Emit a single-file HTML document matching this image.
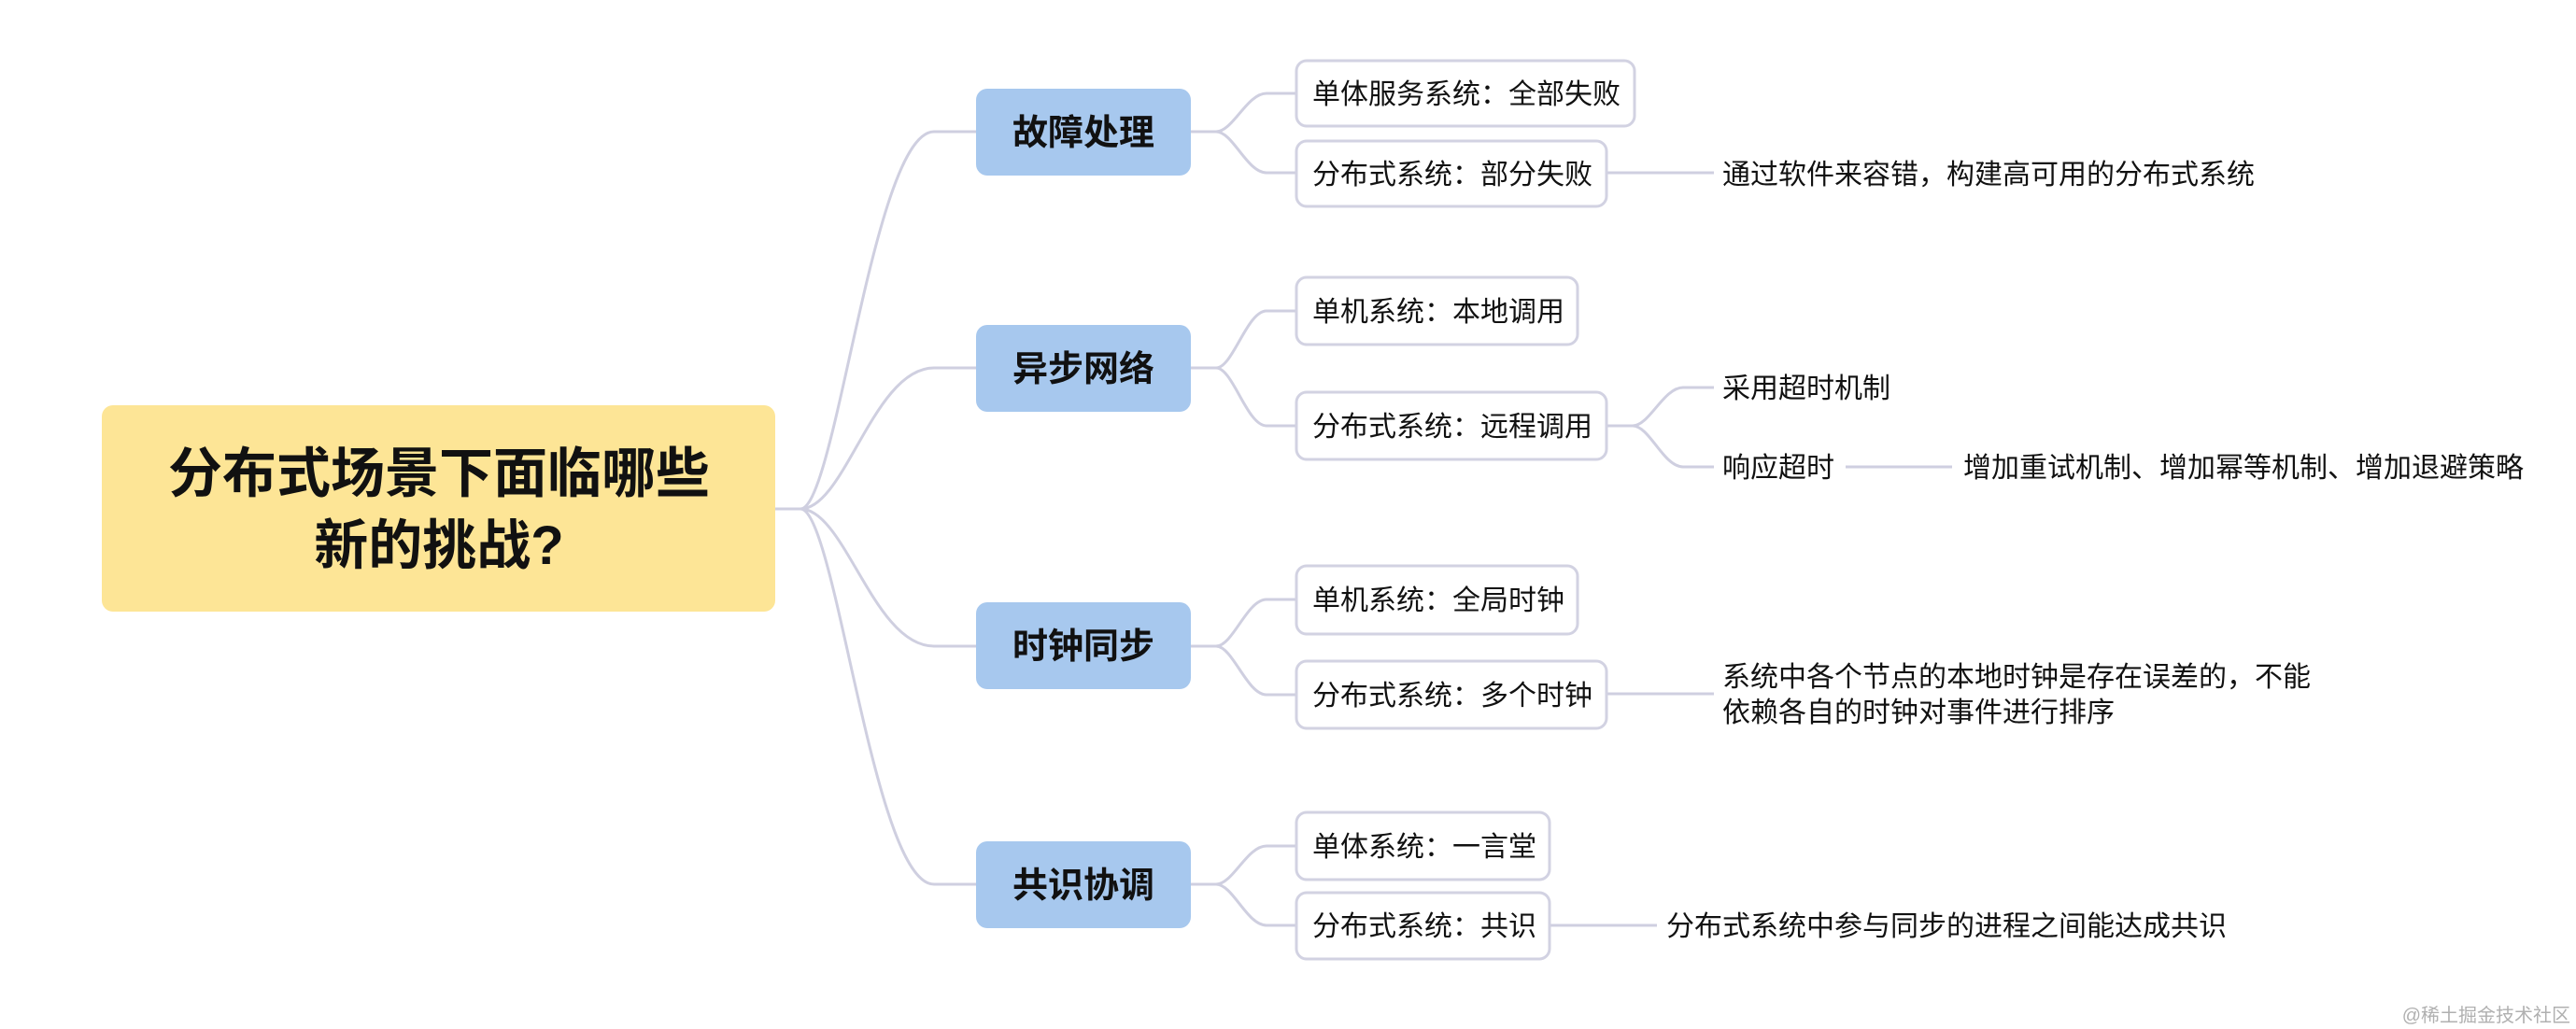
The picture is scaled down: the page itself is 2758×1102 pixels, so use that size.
<!DOCTYPE html>
<html><head><meta charset="utf-8"><style>
html,body{margin:0;padding:0;background:#fff;}
svg{display:block;}
text{font-family:"Liberation Sans","Noto Sans CJK SC",sans-serif;fill:#111;}
</style></head><body>
<svg width="2758" height="1102" viewBox="0 0 2758 1102" xmlns="http://www.w3.org/2000/svg">
<g fill="none" stroke="#cfcfe0" stroke-width="3">
<path d="M830 545 H857 C895 545, 935 141, 1000 141 H1045"/>
<path d="M857 545 C905 545, 935 394, 1000 394 H1045"/>
<path d="M857 545 C905 545, 935 692, 1000 692 H1045"/>
<path d="M857 545 C895 545, 935 947, 1000 947 H1045"/>
<path d="M1275 141 H1302 C1320 141, 1335 100, 1356 100 H1388"/>
<path d="M1302 141 C1320 141, 1335 185, 1356 185 H1388"/>
<path d="M1275 394 H1302 C1320 394, 1335 333, 1356 333 H1388"/>
<path d="M1302 394 C1320 394, 1335 456, 1356 456 H1388"/>
<path d="M1275 692 H1302 C1320 692, 1335 642, 1356 642 H1388"/>
<path d="M1302 692 C1320 692, 1335 744, 1356 744 H1388"/>
<path d="M1275 947 H1302 C1320 947, 1335 906, 1356 906 H1388"/>
<path d="M1302 947 C1320 947, 1335 991, 1356 991 H1388"/>
<path d="M1720 185 H1835"/>
<path d="M1720 456 H1748 C1766 456, 1781 415, 1802 415 H1835"/>
<path d="M1748 456 C1766 456, 1781 500, 1802 500 H1835"/>
<path d="M1976 500 H2090"/>
<path d="M1720 743 H1835"/>
<path d="M1659 991 H1774"/>
</g>
<rect x="109" y="434" width="721" height="221" rx="12" fill="#fde596"/>
<text x="470" y="527" font-size="58" font-weight="bold" text-anchor="middle">分布式场景下面临哪些</text>
<text x="470" y="604" font-size="58" font-weight="bold" text-anchor="middle">新的挑战?</text>
<g fill="#a7c8ee">
<rect x="1045" y="95" width="230" height="93" rx="12"/>
<rect x="1045" y="348" width="230" height="93" rx="12"/>
<rect x="1045" y="645" width="230" height="93" rx="12"/>
<rect x="1045" y="901" width="230" height="93" rx="12"/>
</g>
<g font-size="38" font-weight="bold" text-anchor="middle">
<text x="1160" y="155">故障处理</text>
<text x="1160" y="408">异步网络</text>
<text x="1160" y="705">时钟同步</text>
<text x="1160" y="961">共识协调</text>
</g>
<g fill="#fff" stroke="#d2d2e2" stroke-width="3">
<rect x="1388" y="65" width="362" height="70" rx="11"/>
<rect x="1388" y="151" width="332" height="70" rx="11"/>
<rect x="1388" y="297" width="301" height="72" rx="11"/>
<rect x="1388" y="420" width="332" height="72" rx="11"/>
<rect x="1388" y="606" width="301" height="73" rx="11"/>
<rect x="1388" y="708" width="332" height="72" rx="11"/>
<rect x="1388" y="870" width="271" height="72" rx="11"/>
<rect x="1388" y="956" width="271" height="71" rx="11"/>
</g>
<g font-size="30">
<text x="1405" y="111">单体服务系统：全部失败</text>
<text x="1405" y="197">分布式系统：部分失败</text>
<text x="1405" y="344">单机系统：本地调用</text>
<text x="1405" y="467">分布式系统：远程调用</text>
<text x="1405" y="653">单机系统：全局时钟</text>
<text x="1405" y="755">分布式系统：多个时钟</text>
<text x="1405" y="917">单体系统：一言堂</text>
<text x="1405" y="1002">分布式系统：共识</text>
<text x="1844" y="197">通过软件来容错，构建高可用的分布式系统</text>
<text x="1844" y="426">采用超时机制</text>
<text x="1844" y="511">响应超时</text>
<text x="2102" y="511">增加重试机制、增加幂等机制、增加退避策略</text>
<text x="1844" y="735">系统中各个节点的本地时钟是存在误差的，不能</text>
<text x="1844" y="773">依赖各自的时钟对事件进行排序</text>
<text x="1784" y="1002">分布式系统中参与同步的进程之间能达成共识</text>
</g>
<text x="2752" y="1094" font-size="20" text-anchor="end" style="fill:#b0b0b0">@稀土掘金技术社区</text>
</svg>
</body></html>
